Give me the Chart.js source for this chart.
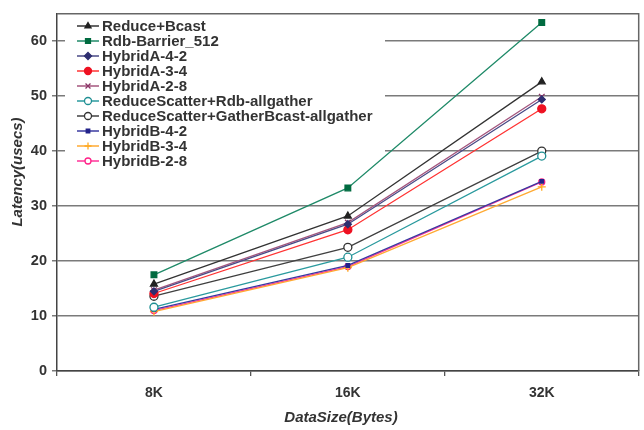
<!DOCTYPE html>
<html><head><meta charset="utf-8">
<script src="https://cdn.jsdelivr.net/npm/chart.js@4/dist/chart.umd.min.js"></script>
<style>html,body{margin:0;padding:0;background:#fff}#wrap{width:644px;height:430px}</style>
</head><body><div id="wrap"><canvas id="c" width="644" height="430"></canvas></div>
<script>
const categories = ['8K', '16K', '32K'];
const yTicks = [0, 10, 20, 30, 40, 50, 60];
const xTitle = 'DataSize(Bytes)';
const yTitle = 'Latency(usecs)';
const reduceBcast = [15.8, 28.2, 52.6];
const rdbBarrier512 = [17.5, 33.3, 63.4];
const hybridA42 = [14.5, 26.7, 49.4];
const hybridA34 = [14.1, 25.7, 47.7];
const hybridA28 = [14.7, 27.0, 49.9];
const rsRdbAllgather = [11.6, 20.7, 39.1];
const rsGatherBcast = [13.6, 22.5, 40.0];
const hybridB42 = [11.2, 19.2, 34.5];
const hybridB34 = [10.8, 18.8, 33.5];
const hybridB28 = [11.0, 19.0, 34.4];

const FONT = '"Liberation Sans", Arial, sans-serif';

function ds(label, data, color, ptColor, style, fill, r) {
  return { label, data, borderColor: color, backgroundColor: fill, pointBorderColor: ptColor,
    pointBackgroundColor: fill, pointStyle: style, pointRadius: r, pointBorderWidth: 1.3,
    borderWidth: 1.3, tension: 0 };
}
const datasets = [
  ds('Reduce+Bcast', reduceBcast, '#333333', '#222222', 'triangle', '#222222', 4),
  ds('Rdb-Barrier_512', rdbBarrier512, '#1f8a68', '#006b40', 'rect', '#006b40', 4),
  ds('HybridA-4-2', hybridA42, '#4a4a86', '#2e2e70', 'rectRot', '#2e2e70', 3.5),
  ds('HybridA-3-4', hybridA34, '#ff3333', '#ee1122', 'circle', '#ee1122', 4),
  ds('HybridA-2-8', hybridA28, '#a4567e', '#8a3366', 'crossRot', '#8a3366', 4),
  ds('ReduceScatter+Rdb-allgather', rsRdbAllgather, '#2a9a9e', '#1f8f93', 'circle', '#ffffff', 4),
  ds('ReduceScatter+GatherBcast-allgather', rsGatherBcast, '#404040', '#333333', 'circle', '#ffffff', 4),
  ds('HybridB-4-2', hybridB42, '#3a3aa0', '#22228a', 'rect', '#22228a', 2.5),
  ds('HybridB-3-4', hybridB34, '#ffaa33', '#ffaa22', 'cross', '#ffaa22', 4),
  ds('HybridB-2-8', hybridB28, '#ff3399', '#ff2288', 'circle', '#ffffff', 3)
];

const frame = {
  id: 'frame',
  beforeDatasetsDraw(chart) {
    const ctx = chart.ctx;
    ctx.save();
    ctx.fillStyle = '#ffffff';
    ctx.fillRect(65, 14, 320, 154);
    ctx.restore();
  },
  afterDatasetsDraw(chart) {
    const ctx = chart.ctx, a = chart.chartArea;
    ctx.save();
    const ys = [26, 41, 56, 71, 86, 101, 116, 131, 146, 161];
    ctx.font = 'bold 15px ' + FONT;
    ctx.textBaseline = 'middle';
    ctx.textAlign = 'left';
    chart.data.datasets.forEach((d, i) => {
      const y = ys[i];
      ctx.strokeStyle = d.borderColor; ctx.lineWidth = 1.5;
      ctx.beginPath(); ctx.moveTo(77, y); ctx.lineTo(99, y); ctx.stroke();
      ctx.fillStyle = d.pointBackgroundColor; ctx.strokeStyle = d.pointBorderColor;
      ctx.lineWidth = 1.3;
      if (Chart.helpers && Chart.helpers.drawPoint) {
        Chart.helpers.drawPoint(ctx, { pointStyle: d.pointStyle, radius: Math.min(d.pointRadius, 3.5), rotation: 0, borderWidth: 1.3 }, 88, y);
      }
      ctx.fillStyle = '#333333';
      ctx.fillText(d.label, 102, y + 1);
    });
    // frame
    ctx.strokeStyle = '#666666'; ctx.lineWidth = 1.5;
    ctx.beginPath();
    ctx.moveTo(a.left, a.top); ctx.lineTo(a.right, a.top); ctx.lineTo(a.right, a.bottom);
    ctx.stroke();
    // axis titles
    ctx.fillStyle = '#333333';
    ctx.font = 'italic bold 15px ' + FONT;
    ctx.textAlign = 'center';
    ctx.fillText(xTitle, 341, 418);
    ctx.translate(18, 172);
    ctx.rotate(-Math.PI / 2);
    ctx.fillText(yTitle, 0, 0);
    ctx.restore();
  }
};

new Chart(document.getElementById('c'), {
  type: 'line',
  data: { labels: categories, datasets },
  options: {
    responsive: false, animation: false, devicePixelRatio: 1,
    layout: { padding: { top: 12, right: 4, left: 0, bottom: 0 } },
    plugins: { legend: { display: false }, tooltip: { enabled: false } },
    scales: {
      x: {
        offset: true,
        grid: { offset: true, drawOnChartArea: false, color: '#555555', lineWidth: 1.3, tickLength: 5 },
        border: { color: '#444444', width: 1.5 },
        ticks: { color: '#333333', padding: 9, font: { family: FONT, size: 14, weight: 'bold' } },
        afterFit(s) { s.height = 59; }
      },
      y: {
        min: 0, max: 65,
        afterBuildTicks(s) { s.ticks = yTicks.map(v => ({ value: v })); },
        grid: { color: '#7a7a7a', lineWidth: 1.5, tickLength: 5 },
        border: { color: '#444444', width: 1.5 },
        ticks: { color: '#333333', padding: 5, font: { family: FONT, size: 14.5, weight: 'bold' } },
        afterFit(s) { s.width = 57; }
      }
    }
  },
  plugins: [frame]
});
</script></body></html>
